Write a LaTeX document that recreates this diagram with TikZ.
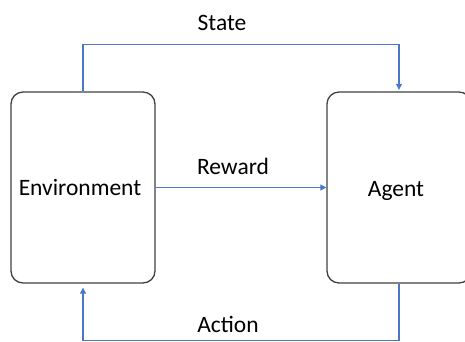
\documentclass[tikz,border=0pt]{standalone}
\usepackage{fontspec}
\setmainfont{Carlito}
\usetikzlibrary{arrows.meta, positioning}
\definecolor{loopBlue}{HTML}{4A78C8}
\definecolor{boxGrey}{HTML}{404040}

\begin{document}
\begin{tikzpicture}[
    x=1pt, y=-1pt,
    block/.style={rectangle, rounded corners=12pt, draw=boxGrey, line width=1.3pt,
                  minimum width=144pt, minimum height=191pt, inner sep=0pt},
    flow/.style={draw=loopBlue, line width=1.1pt,
                 -{Triangle[length=6pt, width=6pt]}},
    lbl/.style={font=\fontsize{23.5}{28}\selectfont, inner sep=0pt, anchor=base},
  ]
    \clip (0,0) rectangle (465,341);
    \useasboundingbox (0,0) rectangle (465,341);

    \node[block] (env) at (83,187.5) {};
    \node[block] (agent) at (399,187.5) {};
    \node[lbl] (envLbl) at (80,195) {Environment};
    \node[lbl] (agentLbl) at (396,196) {Agent};

    % state goes over the top, action comes back under the bottom
    \draw[flow, shorten >=1.5pt] (env.north) -- ++(0,-47) coordinate (stateKnee) -| (agent.north);
    \draw[flow] (env.east) -- (agent.west);
    \draw[flow, shorten >=4pt] (agent.south) -- ++(0,57) coordinate (actionKnee) -| (env.south);

    \node[lbl] (stateLbl) at (222,30) {State};
    \node[lbl] (rewardLbl) at (233,174) {Reward};
    \node[lbl] (actionLbl) at (228,332) {Action};
  \end{tikzpicture}
\end{document}
